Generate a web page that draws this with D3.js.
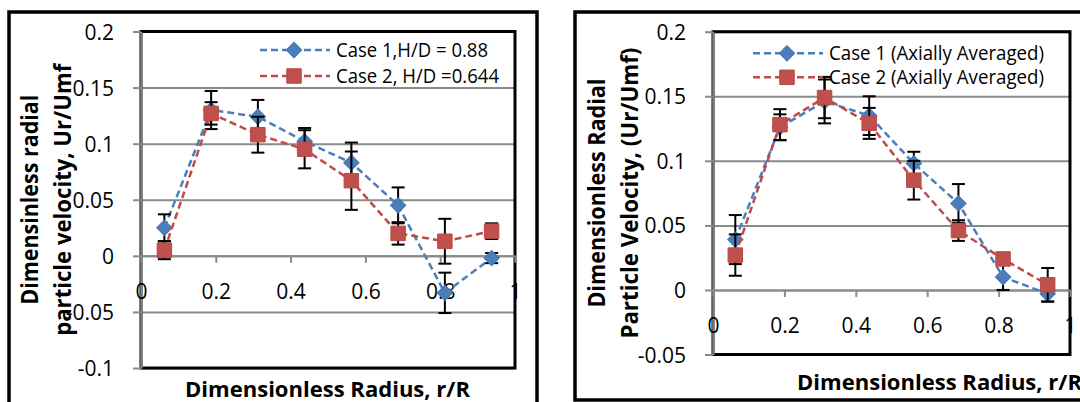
<!DOCTYPE html>
<html>
<head>
<meta charset="utf-8">
<script src="https://cdn.jsdelivr.net/npm/d3@7"></script>
<style>
  html, body { margin: 0; padding: 0; background: #fff; }
  svg { display: block; }
</style>
</head>
<body>
<svg id="chart" width="1080" height="402"></svg>
<script>
// Radial measurement positions (r/R)
const radialPositions = [0.0625, 0.1875, 0.3125, 0.4375, 0.5625, 0.6875, 0.8125, 0.9375];

// Left panel: local radial particle velocity
const case1Local    = [0.025, 0.130, 0.124, 0.102, 0.083, 0.045, -0.033, -0.002];
const case1LocalErr = [0.012, 0.017, 0.015, 0.012, 0.018, 0.016, 0.018, 0.0045];
const case2Local    = [0.005, 0.127, 0.108, 0.095, 0.067, 0.020, 0.013, 0.022];
const case2LocalErr = [0.008, 0.010, 0.016, 0.017, 0.026, 0.010, 0.020, 0.007];

// Right panel: axially averaged radial particle velocity
const case1Avg    = [0.039, 0.126, 0.146, 0.135, 0.098, 0.067, 0.010, -0.003];
const case1AvgErr = [0.019, 0.010, 0.017, 0.015, 0.009, 0.015, 0.010, 0.006];
const case2Avg    = [0.027, 0.128, 0.149, 0.129, 0.085, 0.046, 0.024, 0.004];
const case2AvgErr = [0.016, 0.012, 0.016, 0.012, 0.015, 0.008, 0.004, 0.013];

// Tick values
const xTicks      = [0, 0.2, 0.4, 0.6, 0.8, 1];
const yTicksLeft  = [-0.1, -0.05, 0, 0.05, 0.1, 0.15, 0.2];
const yTicksRight = [-0.05, 0, 0.05, 0.1, 0.15, 0.2];

// Labels
const legendLeft  = ["Case 1,H/D = 0.88", "Case 2, H/D =0.644"];
const legendRight = ["Case 1 (Axially Averaged)", "Case 2 (Axially Averaged)"];
const yTitleLeft  = ["Dimensinless radial", "particle velocity, Ur/Umf"];
const yTitleRight = ["Dimensionless Radial", "Particle Velocity, (Ur/Umf)"];
const xTitle      = "Dimensionless Radius, r/R";

const FONT = "'Open Sans', 'Noto Sans', sans-serif";
const BLUE = "#4a7ebb", BLUE_LINE = "#4a7ebb";
const RED = "#c0504d", RED_LINE = "#be4b48";

const svg = d3.select("#chart");

function drawMarker(sel, kind, cx, cy) {
  if (kind === "diamond") {
    sel.append("path")
      .attr("d", d3.symbol(d3.symbolSquare, 118)())
      .attr("transform", `translate(${cx},${cy}) rotate(45)`)
      .attr("fill", BLUE).attr("stroke", "#4677b2").attr("stroke-width", 1);
  } else {
    sel.append("path")
      .attr("d", d3.symbol(d3.symbolSquare, 210)())
      .attr("transform", `translate(${cx},${cy})`)
      .attr("fill", RED).attr("stroke", "#b94a47").attr("stroke-width", 1);
  }
}

function drawPanel(p) {
  const g = svg.append("g");
  const x = d3.scaleLinear().domain([0, 1]).range([p.left, p.right]);
  const y = d3.scaleLinear().domain(p.yDomain).range([p.bottom, p.top]);

  // chart frame
  g.append("rect")
    .attr("x", p.frame[0]).attr("y", p.frame[1])
    .attr("width", p.frame[2]).attr("height", p.frame[3])
    .attr("fill", "none").attr("stroke", "#000").attr("stroke-width", 3.5);

  // horizontal gridlines
  g.append("g")
    .attr("transform", `translate(${p.left},0)`)
    .call(d3.axisLeft(y).tickValues(p.yTicks).tickSize(-(p.right - p.left)).tickFormat(""))
    .call(s => s.select(".domain").remove())
    .selectAll("line").attr("stroke", "#8a8a8a").attr("stroke-width", 2);

  // plot area border
  g.append("rect")
    .attr("x", p.left).attr("y", p.top)
    .attr("width", p.right - p.left).attr("height", p.bottom - p.top)
    .attr("fill", "none").attr("stroke", "#000").attr("stroke-width", 3);

  // y axis
  const ya = g.append("g")
    .attr("transform", `translate(${p.left},0)`)
    .call(d3.axisLeft(y).tickValues(p.yTicks).tickSize(8).tickSizeOuter(0)
      .tickPadding(19).tickFormat(d => String(d)))
    .attr("font-family", FONT).attr("font-size", 21);
  ya.select(".domain").attr("stroke", "#808080").attr("stroke-width", 2.5);
  ya.selectAll(".tick line").attr("stroke", "#8a8a8a").attr("stroke-width", 2);
  ya.selectAll(".tick text").attr("fill", "#000").attr("dy", "0.36em");

  // x axis crossing at zero
  const xa = g.append("g")
    .attr("transform", `translate(0,${y(0)})`)
    .call(d3.axisBottom(x).tickValues(xTicks).tickSize(7).tickSizeOuter(0)
      .tickPadding(21).tickFormat(d => String(d)))
    .attr("font-family", FONT).attr("font-size", 21);
  xa.select(".domain").attr("stroke", "#8a8a8a").attr("stroke-width", 2);
  xa.selectAll(".tick line").attr("stroke", "#8a8a8a").attr("stroke-width", 2);
  xa.selectAll(".tick text").attr("fill", "#000");

  // axis titles
  g.append("text")
    .attr("x", p.xTitleX).attr("y", p.xTitleY)
    .attr("font-family", FONT).attr("font-size", 22).attr("font-weight", "bold")
    .attr("textLength", 285).attr("lengthAdjust", "spacingAndGlyphs")
    .text(xTitle);
  const yc = (p.top + p.bottom) / 2;
  p.yTitle.forEach((t, i) => {
    g.append("text")
      .attr("transform", `translate(${p.yTitleX[i]},${yc}) rotate(-90)`)
      .attr("text-anchor", "middle")
      .attr("font-family", FONT).attr("font-size", 23).attr("font-weight", "bold")
      .attr("textLength", p.yTitleLen[i]).attr("lengthAdjust", "spacingAndGlyphs")
      .text(t);
  });

  // data series
  const line = d3.line().x(d => x(d.r)).y(d => y(d.v));
  p.series.forEach(s => {
    const pts = radialPositions.map((r, i) => ({ r, v: s.values[i], e: s.errors[i] }));
    const sg = g.append("g");
    sg.append("path").datum(pts)
      .attr("d", line).attr("fill", "none")
      .attr("stroke", s.lineColor).attr("stroke-width", 2.5)
      .attr("stroke-dasharray", "7,4");
    const eb = sg.append("g").attr("stroke", "#000").attr("stroke-width", 2);
    pts.forEach(d => {
      const x0 = x(d.r), y1 = y(d.v + d.e), y2 = y(d.v - d.e);
      eb.append("line").attr("x1", x0).attr("x2", x0).attr("y1", y1).attr("y2", y2);
      eb.append("line").attr("x1", x0 - 6.5).attr("x2", x0 + 6.5).attr("y1", y1).attr("y2", y1);
      eb.append("line").attr("x1", x0 - 6.5).attr("x2", x0 + 6.5).attr("y1", y2).attr("y2", y2);
    });
    pts.forEach(d => drawMarker(sg, s.marker, x(d.r), y(d.v)));
  });

  // legend
  p.series.forEach((s, i) => {
    const ly = p.legendY[i];
    const lg = g.append("g");
    lg.append("line")
      .attr("x1", p.legendX).attr("x2", p.legendX + 70)
      .attr("y1", ly).attr("y2", ly)
      .attr("stroke", s.lineColor).attr("stroke-width", 2.5)
      .attr("stroke-dasharray", "7,4");
    drawMarker(lg, s.marker, p.legendX + 34, ly);
    lg.append("text")
      .attr("x", p.legendX + 76).attr("y", ly + 7)
      .attr("font-family", FONT).attr("font-size", 19.5)
      .attr("textLength", p.legendLen[i]).attr("lengthAdjust", "spacingAndGlyphs")
      .text(p.legend[i]);
  });
}

drawPanel({
  frame: [9, 12, 528, 420],
  left: 141, right: 515, top: 31.5, bottom: 368,
  yDomain: [-0.1, 0.2], yTicks: yTicksLeft,
  xTitleX: 185, xTitleY: 397,
  yTitle: yTitleLeft, yTitleX: [38, 71], yTitleLen: [210, 272],
  legend: legendLeft, legendX: 260, legendY: [50, 76], legendLen: [152, 163],
  series: [
    { values: case1Local, errors: case1LocalErr, marker: "diamond", lineColor: BLUE_LINE },
    { values: case2Local, errors: case2LocalErr, marker: "square", lineColor: RED_LINE }
  ]
});

drawPanel({
  frame: [575, 12, 600, 388],
  left: 713, right: 1070, top: 31.7, bottom: 354.5,
  yDomain: [-0.05, 0.2], yTicks: yTicksRight,
  xTitleX: 797, xTitleY: 390,
  yTitle: yTitleRight, yTitleX: [605, 638], yTitleLen: [229, 291],
  legend: legendRight, legendX: 753, legendY: [53.3, 77.3], legendLen: [215, 215],
  series: [
    { values: case1Avg, errors: case1AvgErr, marker: "diamond", lineColor: BLUE_LINE },
    { values: case2Avg, errors: case2AvgErr, marker: "square", lineColor: RED_LINE }
  ]
});
</script>
</body>
</html>
